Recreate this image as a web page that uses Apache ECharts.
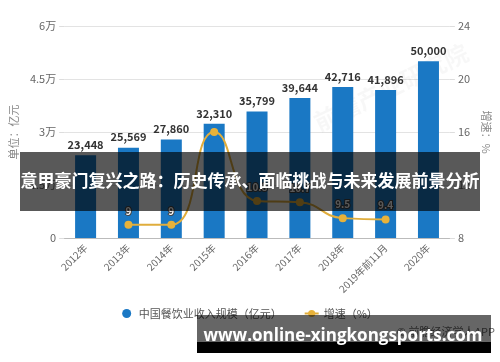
<!DOCTYPE html>
<html><head><meta charset="utf-8">
<script src="https://cdn.jsdelivr.net/npm/echarts@6/dist/echarts.min.js"></script>
<style>html,body{margin:0;padding:0;background:#fff}#c{width:500px;height:362px}</style>
</head><body><div id="c"></div>
<script>
var categories = ['2012年','2013年','2014年','2015年','2016年','2017年','2018年','2019年前11月','2020年'];
var revenue = [23448, 25569, 27860, 32310, 35799, 39644, 42716, 41896, 50000];
var growth = ['-', 9, 9, 16, 10.8, 10.7, 9.5, 9.4, '-'];
var leftTicks = ['0','1.5万','3万','4.5万','6万'];
var rightTicks = ['8','12','16','20','24'];
var hiddenGrowthLabel = [3];
var title = '意甲豪门复兴之路：历史传承、面临挑战与未来发展前景分析';
var site = 'www.online-xingkongsports.com';
var source = '© 前瞻经济学人APP';

var chart = echarts.init(document.getElementById('c'));
var font = '"Noto Sans CJK SC","Noto Sans",sans-serif';
chart.setOption({
  animation:false,
  textStyle:{fontFamily:font},
  grid:{left:60,right:45,top:26,bottom:124},
  legend:{
    bottom:38, left:'center', itemGap:22, itemWidth:14, itemHeight:9,
    textStyle:{color:'#555',fontSize:11},
    data:[{name:'中国餐饮业收入规模（亿元）',icon:'circle'},{name:'增速（%）'}]
  },
  xAxis:{type:'category',data:categories,
    axisLine:{lineStyle:{color:'#bbb'}},axisTick:{show:false},
    axisLabel:{rotate:45,color:'#666',fontSize:10,margin:8,interval:0}},
  yAxis:[{type:'value',min:0,max:60000,interval:15000,
      name:'单位：亿元',nameLocation:'middle',nameGap:40,nameTextStyle:{color:'#888',fontSize:11},
      axisLine:{show:false},axisTick:{show:true,length:5,lineStyle:{color:'#ddd'}},
      splitLine:{lineStyle:{color:'#e3e3e3'}},
      axisLabel:{color:'#666',fontSize:11,margin:8,formatter:function(v,i){return leftTicks[i];}}},
    {type:'value',min:8,max:24,interval:4,
      name:'增速：%',nameLocation:'middle',nameGap:30,nameRotate:-90,nameTextStyle:{color:'#888',fontSize:11},
      axisLine:{show:false},axisTick:{show:true,length:5,lineStyle:{color:'#ddd'}},
      splitLine:{show:false},
      axisLabel:{color:'#666',fontSize:11,margin:8,formatter:function(v,i){return rightTicks[i];}}}],
  series:[{name:'中国餐饮业收入规模（亿元）',type:'bar',data:revenue,barWidth:21,
      itemStyle:{color:'#1a78c4'},
      label:{show:true,position:'top',color:'#333',fontWeight:'bold',fontSize:11,
        formatter:function(p){return p.value.toLocaleString('en-US');}}},
    {name:'增速（%）',type:'line',yAxisIndex:1,data:growth.map(function(v,i){
        return hiddenGrowthLabel.indexOf(i)>=0?{value:v,label:{show:false}}:v;}),
      smooth:true,symbol:'circle',symbolSize:8,
      itemStyle:{color:'#e8b23a'},lineStyle:{color:'#e0ad3c',width:2},
      label:{show:true,position:'top',color:'#fff',fontSize:10,fontWeight:'bold',textBorderColor:'#444',textBorderWidth:2}}],
  graphic:[
    {type:'text',left:310,top:40,z:1,rotation:Math.PI/7,style:{text:'前瞻产业研究院',fill:'rgba(0,0,0,0.03)',fontSize:24,fontWeight:'bold',fontFamily:font}},
    {type:'text',right:5,top:326,z:50,style:{text:source,fill:'#666',fontSize:11,fontFamily:font}},
    {type:'rect',z:100,shape:{x:20,y:152,width:460,height:59},style:{fill:'rgba(0,0,0,0.65)'}},
    {type:'text',z:101,x:250,y:181,style:{text:title,fill:'#fff',fontSize:17,fontWeight:'bold',fontFamily:font,align:'center',verticalAlign:'middle'}},
    {type:'rect',z:100,shape:{x:197,y:315,width:294,height:38},style:{fill:new echarts.graphic.LinearGradient(0,0,0,1,[{offset:0,color:'rgba(0,0,0,0.6)'},{offset:0.7,color:'rgba(0,0,0,0.6)'},{offset:0.71,color:'#000'},{offset:1,color:'#000'}])}},
    {type:'text',z:101,x:343,y:336,style:{text:site,fill:'#fff',fontSize:17,fontWeight:'bold',fontFamily:'"Open Sans","DejaVu Sans",sans-serif',align:'center',verticalAlign:'middle'}}
  ]
});
</script></body></html>
